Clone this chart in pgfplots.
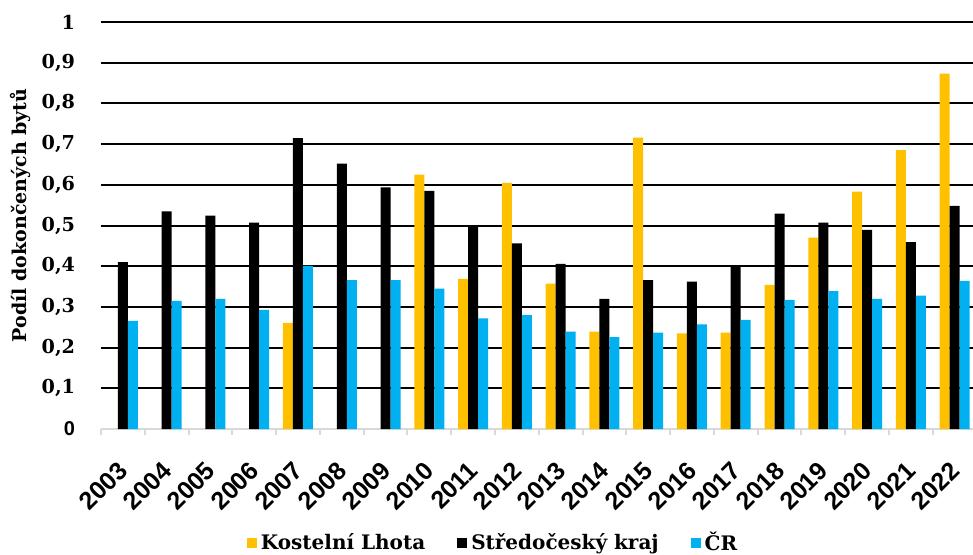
\documentclass[border=0pt]{standalone}
\usepackage{fontspec}
\setmainfont{DejaVu Serif}
\newfontfamily\sansb{Liberation Sans}
\usepackage{pgfplots}
\pgfplotsset{compat=1.18}
\definecolor{kyellow}{HTML}{FFC000}
\definecolor{kblue}{HTML}{00B0F0}
\definecolor{axgray}{HTML}{D9D9D9}
\begin{document}
\begin{tikzpicture}
\begin{axis}[
  at={(0,0)}, anchor=south west,
  scale only axis,
  width=437.75pt, height=203.5pt,
  ybar=0pt, bar width=5pt,
  xmin=-0.5, xmax=19.5,
  ymin=0, ymax=1,
  separate axis lines,
  axis x line*=bottom, axis y line*=left,
  x axis line style={axgray, line width=1pt, -},
  y axis line style={draw=none},
  xtick={0,...,19},
  xticklabels={2003,2004,2005,2006,2007,2008,2009,2010,2011,2012,2013,2014,2015,2016,2017,2018,2019,2020,2021,2022},
  major x tick style={draw=none},
  minor xtick={-0.5,0.5,...,19.5},
  minor x tick style={axgray, line width=1pt},
  minor tick length=3pt,
  tick align=outside,
  xticklabel style={font=\sansb\bfseries\fontsize{12.5pt}{14pt}\selectfont, inner sep=0pt, xshift=-3pt, yshift=-11pt, rotate=45, anchor=north east},
  ytick={0.1,0.2,...,1.0},
  yticklabels={{0,1},{0,2},{0,3},{0,4},{0,5},{0,6},{0,7},{0,8},{0,9},1},
  extra y ticks={0},
  extra y tick labels={{\sansb\bfseries 0}},
  extra y tick style={grid=none, yticklabel style={font=\sansb\bfseries\fontsize{10pt}{11pt}\selectfont}},
  major y tick style={draw=none},
  yticklabel style={font=\bfseries\fontsize{9.6pt}{11pt}\selectfont, anchor=east, inner sep=0pt, xshift=-8.5pt},
  ymajorgrids,
  major grid style={black, line width=1pt},
  ylabel={Podíl dokončených bytů},
  every axis y label/.append style={at={(axis description cs:-0.0925,0.525)}, anchor=center, font=\bfseries\fontsize{9.5pt}{11pt}\selectfont},
  legend columns=3,
  legend style={at={(axis description cs:0.449,-0.28)}, anchor=center, draw=none, font=\bfseries\fontsize{10pt}{12pt}\selectfont, /tikz/every even column/.append style={column sep=14pt}},
  legend image code/.code={\fill[#1, draw=none] (0pt,-2.5pt) rectangle (5pt,2.5pt);},
]
\addplot[fill=kyellow, draw=none] coordinates {(4,0.261) (7,0.625) (8,0.369) (9,0.605) (10,0.357) (11,0.239) (12,0.716) (13,0.235) (14,0.237) (15,0.354) (16,0.470) (17,0.583) (18,0.685) (19,0.873)};
\addplot[fill=black, draw=none] coordinates {(0,0.410) (1,0.535) (2,0.524) (3,0.507) (4,0.715) (5,0.652) (6,0.594) (7,0.585) (8,0.500) (9,0.456) (10,0.406) (11,0.320) (12,0.366) (13,0.362) (14,0.402) (15,0.529) (16,0.507) (17,0.489) (18,0.459) (19,0.548)};
\addplot[fill=kblue, draw=none] coordinates {(0,0.266) (1,0.315) (2,0.320) (3,0.293) (4,0.401) (5,0.366) (6,0.366) (7,0.345) (8,0.272) (9,0.280) (10,0.239) (11,0.226) (12,0.237) (13,0.257) (14,0.268) (15,0.317) (16,0.339) (17,0.320) (18,0.328) (19,0.364)};
\legend{Kostelní Lhota, Středočeský kraj, ČR}
\end{axis}
\pgfresetboundingbox
\useasboundingbox (-50.5pt,-62.5pt) rectangle (436pt,214.5pt);
\end{tikzpicture}
\end{document}
